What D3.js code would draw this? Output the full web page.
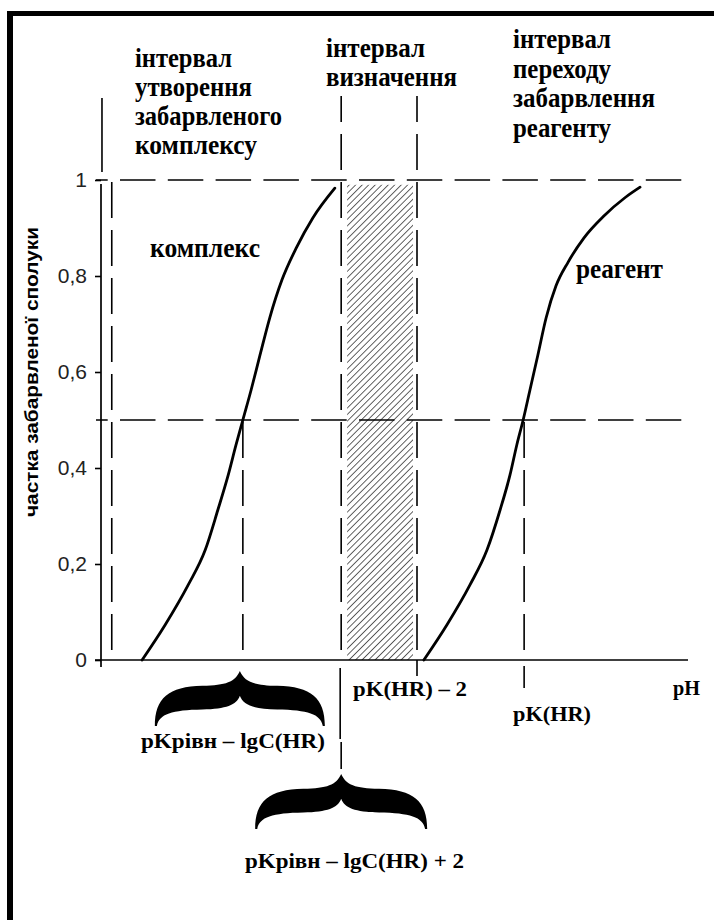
<!DOCTYPE html>
<html lang="uk">
<head>
<meta charset="UTF-8">
<title>Частка забарвленої сполуки</title>
<script src="https://cdn.jsdelivr.net/npm/d3@7"></script>
<style>
  body { margin: 0; background: #fff; }
  svg { display: block; }
</style>
</head>
<body>
<script>
// --- data ---
const yTicks = [0, 0.2, 0.4, 0.6, 0.8, 1];
const yTickLabels = ["0", "0,2", "0,4", "0,6", "0,8", "1"];

// curve of the coloured complex (x in pH units, y = fraction)
const complexPH   = [0.84, 1.31, 1.78, 2.13, 2.39, 2.60, 2.76, 2.90, 3.07, 3.25, 3.45, 3.70, 3.99, 4.33, 4.78];
const complexFrac = [0, 0.073, 0.156, 0.229, 0.313, 0.385, 0.448, 0.50, 0.563, 0.635, 0.713, 0.792, 0.858, 0.921, 0.983];

// curve of the reagent
const reagentPH   = [6.60, 7.07, 7.54, 7.89, 8.16, 8.36, 8.50, 8.63, 8.77, 8.93, 9.10, 9.30, 9.55, 9.87, 10.28, 10.71, 11.02];
const reagentFrac = [0, 0.073, 0.156, 0.229, 0.313, 0.385, 0.448, 0.50, 0.563, 0.635, 0.713, 0.779, 0.829, 0.879, 0.925, 0.963, 0.985];

// guide lines (pH)
const edgeLeft = 0.22, pKcomplex = 2.9, detLeft = 4.91, detRight = 6.46, pKreagent = 8.65;
const guideLevels = [1, 0.5];

// texts
const headerComplex = ["інтервал", "утворення", "забарвленого", "комплексу"];
const headerDet = ["інтервал", "визначення"];
const headerReagent = ["інтервал", "переходу", "забарвлення", "реагенту"];
const yTitle = "частка забарвленої сполуки";

const W = 714, H = 920;
const SERIF = "Liberation Serif";
const SANS = "Liberation Sans";

const svg = d3.select("body").append("svg").attr("width", W).attr("height", H);

const x = d3.scaleLinear().domain([0, 12]).range([101, 688]);
const y = d3.scaleLinear().domain([0, 1]).range([660, 180]);

// frame (top and left edges of the original figure)
svg.append("rect").attr("x", 7).attr("y", 11).attr("width", W).attr("height", 5).attr("fill", "#000");
svg.append("rect").attr("x", 7).attr("y", 11).attr("width", 6).attr("height", H).attr("fill", "#000");

// hatched determination interval
const defs = svg.append("defs");
defs.append("pattern")
  .attr("id", "hatch").attr("patternUnits", "userSpaceOnUse")
  .attr("width", 4.6).attr("height", 4.6)
  .attr("patternTransform", "rotate(45)")
  .append("line").attr("x1", 0).attr("y1", 0).attr("x2", 0).attr("y2", 4.6)
  .attr("stroke", "#3a3a3a").attr("stroke-width", 1.6);

svg.append("rect")
  .attr("x", x(detLeft) + 6).attr("y", y(0.99))
  .attr("width", x(detRight) - x(detLeft) - 10)
  .attr("height", y(0) - y(0.99))
  .attr("fill", "url(#hatch)");

// dashed guides
const hDash = "35.5,12.3", vDash = "36,12";
guideLevels.forEach(v => {
  svg.append("line")
    .attr("x1", 96).attr("x2", x(12))
    .attr("y1", y(v)).attr("y2", y(v))
    .attr("stroke", "#000").attr("stroke-width", 1.6)
    .attr("stroke-dasharray", hDash).attr("stroke-dashoffset", 23.8);
});

function vGuide(p, y1, y2, offset) {
  svg.append("line")
    .attr("x1", x(p)).attr("x2", x(p)).attr("y1", y1).attr("y2", y2)
    .attr("stroke", "#000").attr("stroke-width", 1.6)
    .attr("stroke-dasharray", vDash).attr("stroke-dashoffset", offset);
}
vGuide(edgeLeft, y(1) + 2, y(0) - 10, 0);
vGuide(detLeft, 96, y(0) - 10, 10);
vGuide(detRight, 96, y(0) - 10, 10);
vGuide(pKcomplex, y(0.5) + 2, y(0) - 10, 0);
vGuide(pKreagent, y(0.5) + 2, y(0) - 10, 0);

// solid pieces of guides outside the plot
function seg(x1, y1, x2, y2, w) {
  svg.append("line").attr("x1", x1).attr("y1", y1).attr("x2", x2).attr("y2", y2)
    .attr("stroke", "#000").attr("stroke-width", w || 1.6);
}
seg(x(0.02), 98, x(0.02), 172);
seg(x(detLeft) - 1, 668, x(detLeft) - 1, 739);
seg(x(detLeft), 742, x(detLeft), 769);
seg(x(detRight), 660, x(detRight), 676);
seg(x(pKreagent), 666, x(pKreagent), 688);

// axes
seg(95, y(0), x(12), y(0), 1.7);
seg(101, y(1) + 4, 101, 667, 1.7);

const yAxis = d3.axisLeft(y)
  .tickValues(yTicks)
  .tickFormat((d, i) => yTickLabels[i])
  .tickSize(6).tickPadding(8).tickSizeOuter(0);
const gy = svg.append("g").attr("transform", "translate(101,0)").call(yAxis);
gy.select(".domain").remove();
gy.selectAll(".tick line").attr("stroke", "#000").attr("stroke-width", 1.6);
gy.selectAll(".tick text")
  .attr("font-family", SANS)
  .attr("font-size", 21).attr("fill", "#222");

svg.append("text")
  .attr("transform", `translate(38, ${y(0.6)}) rotate(-90)`)
  .attr("text-anchor", "middle")
  .attr("font-family", SANS)
  .attr("font-weight", "bold").attr("font-size", 19)
  .attr("textLength", 290).attr("lengthAdjust", "spacingAndGlyphs")
  .text(yTitle);

// curves
const line = d3.line().x(d => x(d[0])).y(d => y(d[1])).curve(d3.curveMonotoneX);
[[complexPH, complexFrac], [reagentPH, reagentFrac]].forEach(([px, py]) => {
  svg.append("path")
    .datum(px.map((v, i) => [v, py[i]]))
    .attr("d", line)
    .attr("fill", "none").attr("stroke", "#000").attr("stroke-width", 2.8)
    .attr("stroke-linecap", "round");
});

// text helper
function label(str, tx, ty, len, size) {
  svg.append("text")
    .attr("font-family", SERIF).attr("font-weight", "bold").attr("fill", "#000")
    .attr("x", tx).attr("y", ty).attr("font-size", size)
    .attr("textLength", len).attr("lengthAdjust", "spacingAndGlyphs")
    .text(str);
}

const hSize = 27;
[97, 117, 147, 122].forEach((len, i) => label(headerComplex[i], 135, 67 + i * 29, len, hSize));
[99, 131].forEach((len, i) => label(headerDet[i], 326, 57 + i * 29, len, hSize));
[98, 98, 142, 98].forEach((len, i) => label(headerReagent[i], 513, 48 + i * 29.6, len, hSize));

label("комплекс", 150, 257, 110, hSize);
label("реагент", 576, 278, 87, hSize);

label("pK(HR) – 2", 353, 696, 114, 21);
label("pK(HR)", 513, 721, 78, 21);
label("pH", 673, 695, 27, 21);
label("pKрівн – lgC(HR)", 141, 748, 184, 21);
label("pKрівн – lgC(HR) + 2", 245, 868, 219, 21);

// curly braces
function bracePath(cx, w, top, h) {
  const p = d3.path();
  const X = t => cx - w / 2 + t * w, Y = t => top + t * h;
  p.moveTo(X(0), Y(1));
  p.bezierCurveTo(X(0), Y(0.5), X(0.08), Y(0.28), X(0.28), Y(0.27));
  p.bezierCurveTo(X(0.42), Y(0.26), X(0.47), Y(0.2), X(0.5), Y(0));
  p.bezierCurveTo(X(0.53), Y(0.2), X(0.58), Y(0.26), X(0.72), Y(0.27));
  p.bezierCurveTo(X(0.92), Y(0.28), X(1), Y(0.5), X(1), Y(1));
  p.lineTo(X(0.988), Y(1));
  p.bezierCurveTo(X(0.975), Y(0.78), X(0.9), Y(0.71), X(0.72), Y(0.7));
  p.bezierCurveTo(X(0.58), Y(0.69), X(0.52), Y(0.62), X(0.5), Y(0.45));
  p.bezierCurveTo(X(0.48), Y(0.62), X(0.42), Y(0.69), X(0.28), Y(0.7));
  p.bezierCurveTo(X(0.1), Y(0.71), X(0.025), Y(0.78), X(0.012), Y(1));
  p.closePath();
  return p.toString();
}
svg.append("path").attr("d", bracePath(x(pKcomplex) - 3, 170, 671, 55)).attr("fill", "#000");
svg.append("path").attr("d", bracePath(x(detLeft), 172, 774, 55)).attr("fill", "#000");
</script>
</body>
</html>
